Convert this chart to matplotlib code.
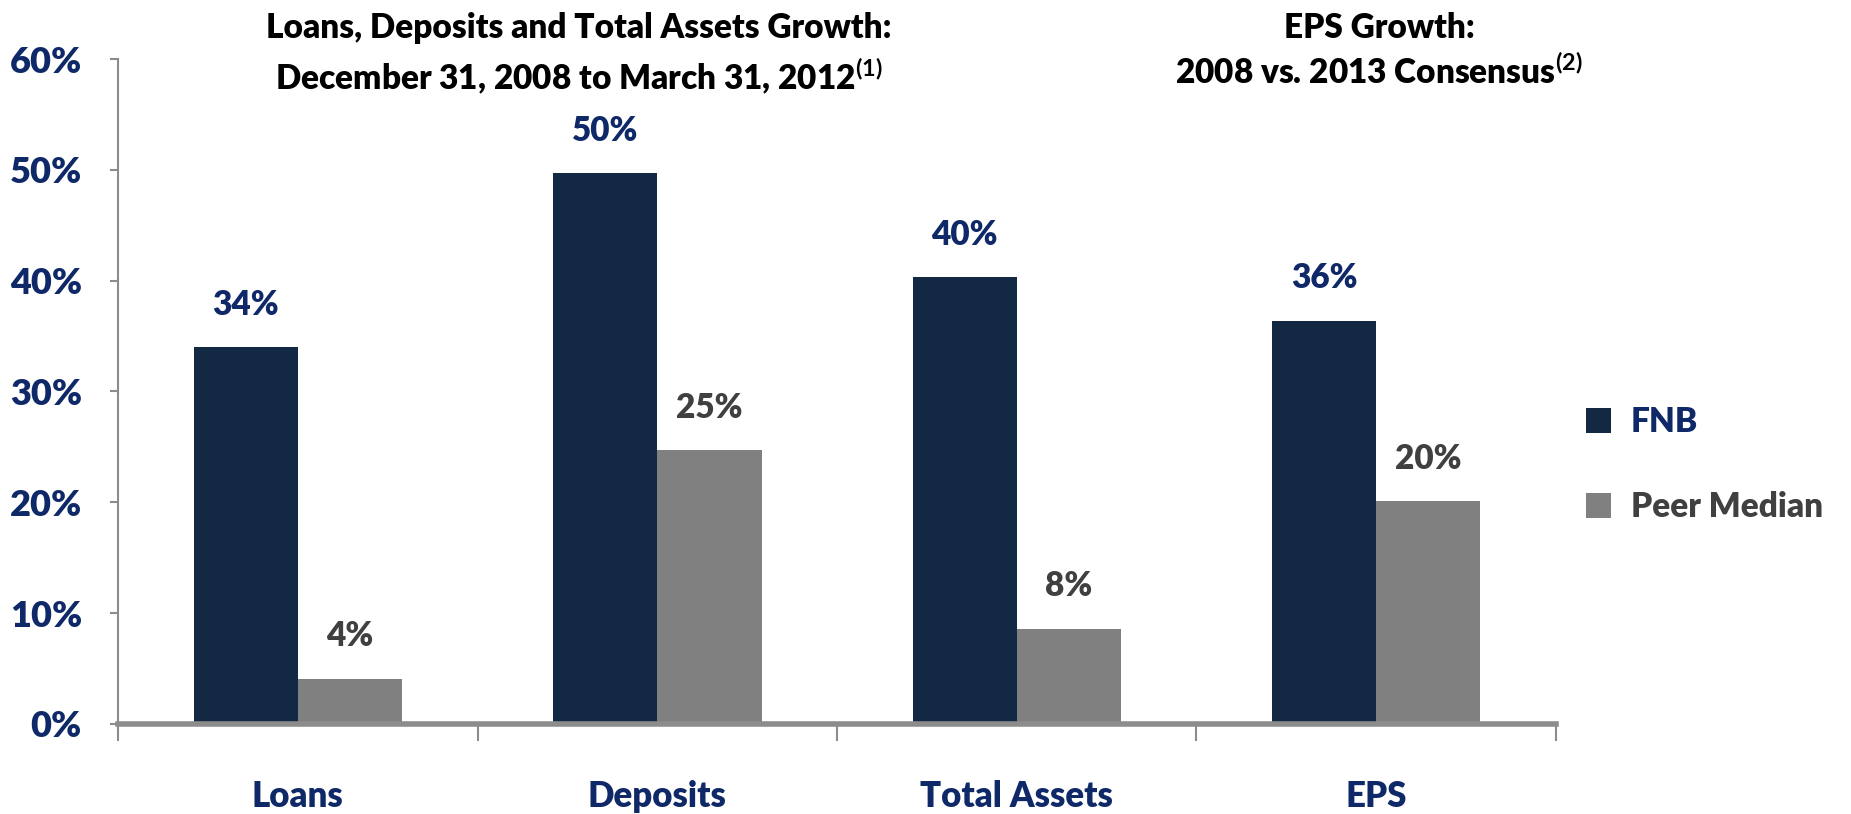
import numpy as np
import matplotlib.pyplot as plt

categories = ['Loans', 'Deposits', 'Total Assets', 'EPS']
fnb = [34.0, 49.7, 40.3, 36.4]
peer = [4.1, 24.7, 8.6, 20.1]
fnb_labels = ['34%', '50%', '40%', '36%']
peer_labels = ['4%', '25%', '8%', '20%']
yticks = [0, 10, 20, 30, 40, 50, 60]

navy = '#132843'
grey = '#808080'
label_blue = '#0f2868'
label_grey = '#404040'
font = 'Lato'
wt = 'heavy'

plt.rcParams['mathtext.fontset'] = 'custom'
plt.rcParams['mathtext.bf'] = 'Lato:bold'
plt.rcParams['mathtext.rm'] = 'Lato:bold'

fig = plt.figure(figsize=(18.51, 8.14), dpi=100)
ax = fig.add_axes([0.0638, 0.1106, 0.7768, 0.8169])

x = np.arange(len(categories))
w = 0.29
b1 = ax.bar(x - w / 2, fnb, w, color=navy, label='FNB')
b2 = ax.bar(x + w / 2, peer, w, color=grey, label='Peer Median')

for rect, txt in zip(b1, fnb_labels):
    ax.text(rect.get_x() + rect.get_width() / 2, rect.get_height() + 2.4, txt,
            ha='center', va='bottom', fontsize=24, fontweight=wt,
            color=label_blue, family=font)
for rect, txt in zip(b2, peer_labels):
    ax.text(rect.get_x() + rect.get_width() / 2, rect.get_height() + 2.4, txt,
            ha='center', va='bottom', fontsize=24, fontweight=wt,
            color=label_grey, family=font)

ax.set_xlim(-0.5, 3.5)
ax.set_ylim(0, 60)
ax.set_yticks(yticks)
ax.set_yticklabels([f'{t}%' for t in yticks], fontsize=26, fontweight=wt,
                   color=label_blue, family=font)
ax.tick_params(axis='y', length=6, width=1.5, color='#8c8c8c', pad=20)

ax.set_xticks(np.arange(-0.5, 4, 1))
ax.set_xticklabels([])
ax.tick_params(axis='x', length=12, width=1.5, color='#8c8c8c')
ax.set_xticks(x, minor=True)
ax.set_xticklabels(categories, minor=True, fontsize=25, fontweight=wt,
                   color=label_blue, family=font)
ax.tick_params(axis='x', which='minor', length=0, pad=40)

for s in ['top', 'right']:
    ax.spines[s].set_visible(False)
ax.spines['left'].set_color('#8c8c8c')
ax.spines['left'].set_linewidth(1.5)
ax.spines['bottom'].set_color('#8c8c8c')
ax.spines['bottom'].set_linewidth(4)

fig.text(0.3125, 0.985, 'Loans, Deposits and Total Assets Growth:\n'
         'December 31, 2008 to March 31, 2012$^{\\mathbf{(1)}}$',
         ha='center', va='top', fontsize=24, fontweight=wt,
         family=font, linespacing=1.35)
fig.text(0.745, 0.985, 'EPS Growth:\n2008 vs. 2013 Consensus$^{\\mathbf{(2)}}$',
         ha='center', va='top', fontsize=24, fontweight=wt,
         family=font, linespacing=1.35)

leg = ax.legend(loc='center left', bbox_to_anchor=(1.0, 0.39), frameon=False,
                prop={'family': font, 'weight': wt, 'size': 24},
                handlelength=0.75, handleheight=0.75, labelspacing=1.6,
                handletextpad=0.6)
leg.get_texts()[0].set_color(label_blue)
leg.get_texts()[1].set_color(label_grey)

fig.savefig('out.png', dpi=100)
